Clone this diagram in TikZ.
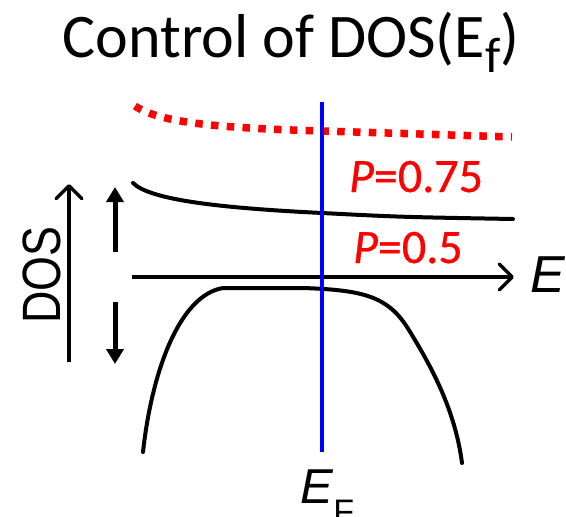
\documentclass[tikz,border=0pt]{standalone}
\usepackage{fontspec}
\setmainfont{Carlito}
\newfontfamily\arialf{Liberation Sans}
\newfontfamily\plabfont[FakeBold=0.6]{Carlito}
\usetikzlibrary{arrows.meta}
\definecolor{pred}{RGB}{255,0,0}
\definecolor{pblue}{RGB}{0,0,255}
\begin{document}
\begin{tikzpicture}[x=1pt,y=-1pt,
  curve/.style={line width=4pt,black,line cap=round},
  axisline/.style={line width=3.5pt,black,-{Straight Barb[length=13pt,width=26pt,line width=3.5pt,round]}},
  thickarrow/.style={line width=5pt,black,-{Triangle[length=15pt,width=17pt]}},
  plabel/.style={anchor=base west,inner sep=0pt,text=pred,font=\plabfont\fontsize{48}{48}\selectfont},
  axlabel/.style={inner sep=0pt,font=\arialf\fontsize{50}{50}\selectfont\itshape}]
\useasboundingbox (0,0) rectangle (566,517);
% title
\node[anchor=base,inner sep=0pt,font=\fontsize{62}{62}\selectfont] (title) at (291,57)
  {Control of DOS(E\raisebox{-15pt}{\fontsize{50}{50}\selectfont f})};
% red dotted curve
\draw[pred,line width=7.5pt,dash pattern=on 7.5pt off 8.3pt]
  (135,106) .. controls (160,123) and (220,128) .. (322,131)
  .. controls (420,134) .. (512,137);
% upper black curve
\draw[curve] (133,183) .. controls (150,200) and (220,208) .. (322,213)
  .. controls (400,217) .. (513,219);
% E axis
\coordinate (eaxL) at (132,277);
\coordinate (eaxR) at (514,277);
\draw[axisline] (eaxL) -- (eaxR);
\node[axlabel,anchor=base west,font=\arialf\fontsize{52}{52}\selectfont\itshape] (elab) at (530,292) {E};
% lower curve
\draw[curve] (143,452) .. controls (152,370) and (180,295) .. (223,288)
  -- (303,288) .. controls (362,290) and (387,296) .. (407,327)
  .. controls (432,367) and (455,410) .. (462,463);
% DOS axis
\coordinate (dosB) at (69,362);
\coordinate (dosT) at (69,184);
\draw[axisline] (dosB) -- (dosT);
\node[rotate=90,inner sep=0pt,font=\arialf\fontsize{54}{54}\selectfont] (doslab) at (42,275)
  {\scalebox{0.83}[1]{DOS}};
% thick arrows
\coordinate (upS) at (115,252);
\coordinate (upT) at (115,187);
\coordinate (dnS) at (115,302);
\coordinate (dnT) at (115,364);
\draw[thickarrow] (upS) -- (upT);
\draw[thickarrow] (dnS) -- (dnT);
% P labels
\node[plabel] (p75) at (349,192) {\textit{P}=0.75};
\node[plabel] (p50) at (353,263) {\textit{P}=0.5};
% Fermi level line
\coordinate (efT) at (322,102);
\coordinate (efB) at (322,452);
\draw[pblue,line width=4.5pt] (efT) -- (efB);
\node[axlabel,anchor=base west,font=\arialf\fontsize{49}{49}\selectfont] (eflab) at (300,503)
  {\textit{E}\raisebox{-20pt}{\fontsize{34}{34}\selectfont F}};
\end{tikzpicture}
\end{document}
